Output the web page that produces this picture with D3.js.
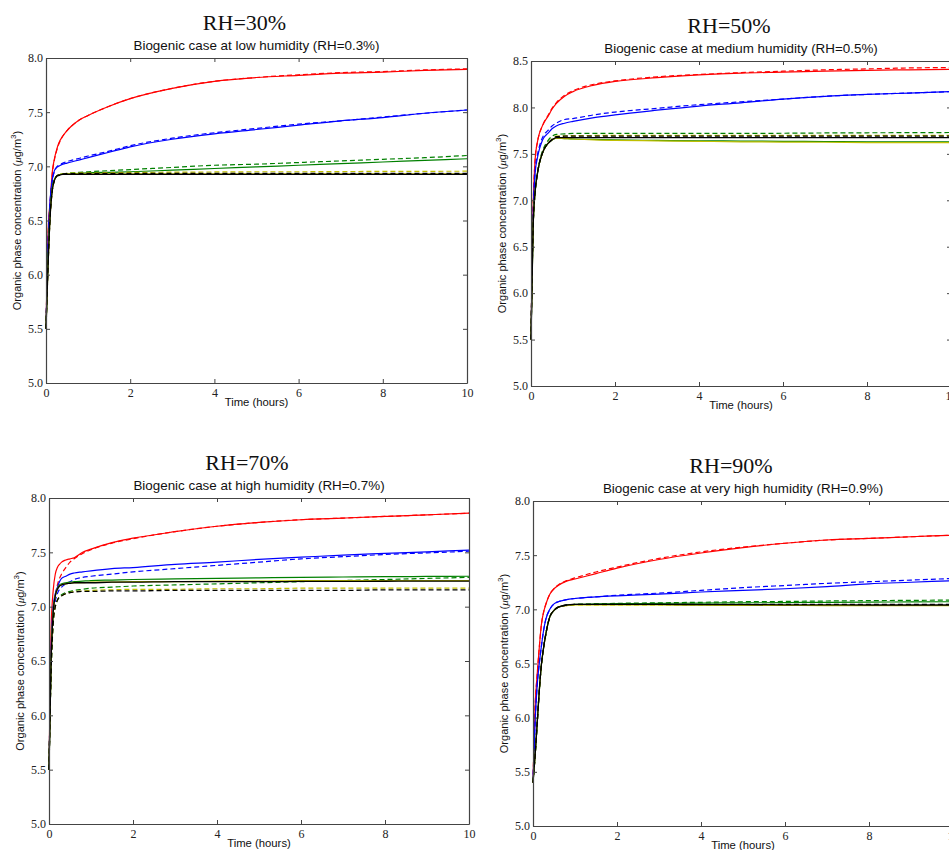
<!DOCTYPE html>
<html>
<head>
<meta charset="utf-8">
<script src="https://cdn.jsdelivr.net/npm/d3@7"></script>
<style>
body { margin: 0; background: #fff; }
svg { display: block; }
</style>
</head>
<body>
<script>
// time axis (hours), shared by every curve
var times = [0, 0.05, 0.1, 0.15, 0.2, 0.25, 0.3, 0.4, 0.5, 0.6, 0.8, 1, 1.5, 2, 3, 4, 5, 6, 7, 8, 9, 10];

// RH=30%
var red30     = [5.5, 6.4, 6.68, 6.95, 7.07, 7.15, 7.21, 7.28, 7.33, 7.37, 7.43, 7.47, 7.555, 7.625, 7.72, 7.785, 7.82, 7.84, 7.86, 7.87, 7.885, 7.895];
var red30d    = [5.5, 6.35, 6.65, 6.93, 7.06, 7.14, 7.2, 7.28, 7.33, 7.37, 7.43, 7.47, 7.555, 7.625, 7.72, 7.785, 7.82, 7.845, 7.865, 7.875, 7.89, 7.9];
var blue30    = [5.5, 6.3, 6.7, 6.88, 6.96, 6.99, 7.0, 7.02, 7.03, 7.04, 7.06, 7.08, 7.13, 7.18, 7.25, 7.3, 7.34, 7.38, 7.42, 7.45, 7.49, 7.52];
var blue30d   = [5.5, 6.28, 6.68, 6.87, 6.95, 6.99, 7.01, 7.03, 7.045, 7.055, 7.075, 7.095, 7.14, 7.19, 7.26, 7.31, 7.35, 7.39, 7.42, 7.455, 7.49, 7.52];
var green30   = [5.5, 6.15, 6.58, 6.8, 6.88, 6.91, 6.92, 6.93, 6.93, 6.932, 6.935, 6.94, 6.945, 6.95, 6.965, 6.98, 6.995, 7.01, 7.025, 7.04, 7.055, 7.07];
var green30d  = [5.5, 6.15, 6.58, 6.8, 6.88, 6.91, 6.92, 6.93, 6.935, 6.94, 6.945, 6.95, 6.96, 6.97, 6.99, 7.01, 7.02, 7.035, 7.05, 7.065, 7.08, 7.1];
var yellow30  = [5.5, 6.1, 6.55, 6.78, 6.87, 6.91, 6.92, 6.93, 6.93, 6.93, 6.93, 6.93, 6.93, 6.93, 6.93, 6.93, 6.93, 6.93, 6.93, 6.93, 6.93, 6.93];
var yellow30d = [5.5, 6.1, 6.55, 6.78, 6.87, 6.91, 6.92, 6.93, 6.935, 6.937, 6.94, 6.94, 6.942, 6.944, 6.946, 6.948, 6.95, 6.95, 6.952, 6.953, 6.954, 6.955];
var black30   = [5.5, 6.1, 6.55, 6.78, 6.87, 6.905, 6.915, 6.925, 6.925, 6.925, 6.925, 6.925, 6.925, 6.925, 6.925, 6.925, 6.925, 6.925, 6.925, 6.925, 6.925, 6.925];
var black30d  = [5.5, 6.1, 6.55, 6.78, 6.87, 6.91, 6.92, 6.93, 6.932, 6.933, 6.934, 6.935, 6.935, 6.935, 6.935, 6.935, 6.935, 6.935, 6.935, 6.935, 6.935, 6.935];

// RH=50%
var red50     = [5.5, 6.9, 7.45, 7.62, 7.72, 7.78, 7.83, 7.9, 7.98, 8.04, 8.12, 8.17, 8.24, 8.28, 8.32, 8.35, 8.37, 8.38, 8.39, 8.4, 8.405, 8.41];
var red50d    = [5.5, 6.9, 7.45, 7.62, 7.72, 7.78, 7.83, 7.91, 7.99, 8.05, 8.13, 8.18, 8.25, 8.285, 8.33, 8.355, 8.375, 8.39, 8.405, 8.415, 8.425, 8.43];
var blue50    = [5.5, 6.8, 7.3, 7.45, 7.55, 7.62, 7.67, 7.72, 7.77, 7.8, 7.83, 7.85, 7.89, 7.92, 7.97, 8.015, 8.05, 8.09, 8.12, 8.14, 8.155, 8.17];
var blue50d   = [5.5, 6.8, 7.32, 7.48, 7.58, 7.65, 7.7, 7.75, 7.8, 7.83, 7.87, 7.88, 7.92, 7.95, 7.99, 8.03, 8.06, 8.09, 8.12, 8.14, 8.155, 8.17];
var green50   = [5.5, 6.7, 7.1, 7.28, 7.4, 7.48, 7.54, 7.61, 7.65, 7.67, 7.665, 7.66, 7.655, 7.65, 7.645, 7.64, 7.638, 7.635, 7.633, 7.63, 7.63, 7.63];
var green50d  = [5.5, 6.7, 7.1, 7.29, 7.41, 7.5, 7.56, 7.64, 7.69, 7.71, 7.715, 7.72, 7.72, 7.72, 7.72, 7.72, 7.72, 7.722, 7.725, 7.727, 7.728, 7.73];
var yellow50  = [5.5, 6.7, 7.1, 7.28, 7.4, 7.48, 7.54, 7.61, 7.65, 7.67, 7.665, 7.66, 7.65, 7.645, 7.64, 7.635, 7.63, 7.627, 7.625, 7.622, 7.62, 7.62];
var yellow50d = [5.5, 6.7, 7.1, 7.28, 7.4, 7.48, 7.54, 7.61, 7.66, 7.69, 7.695, 7.697, 7.698, 7.7, 7.7, 7.7, 7.7, 7.7, 7.7, 7.7, 7.7, 7.7];
var black50   = [5.5, 6.7, 7.1, 7.28, 7.4, 7.48, 7.54, 7.61, 7.65, 7.675, 7.675, 7.675, 7.675, 7.675, 7.675, 7.675, 7.675, 7.675, 7.675, 7.675, 7.675, 7.675];
var black50d  = [5.5, 6.7, 7.1, 7.28, 7.4, 7.48, 7.54, 7.61, 7.655, 7.685, 7.69, 7.69, 7.69, 7.69, 7.69, 7.69, 7.69, 7.69, 7.69, 7.69, 7.69, 7.69];

// RH=70%
var red70     = [5.5, 6.8, 7.15, 7.3, 7.36, 7.39, 7.41, 7.43, 7.44, 7.45, 7.5, 7.53, 7.59, 7.63, 7.69, 7.74, 7.775, 7.8, 7.815, 7.83, 7.845, 7.86];
var red70d    = [5.5, 6.5, 6.9, 7.1, 7.2, 7.26, 7.3, 7.36, 7.41, 7.44, 7.49, 7.525, 7.585, 7.625, 7.69, 7.74, 7.775, 7.8, 7.815, 7.83, 7.845, 7.86];
var blue70    = [5.5, 6.6, 7.0, 7.12, 7.18, 7.23, 7.26, 7.28, 7.3, 7.31, 7.32, 7.33, 7.35, 7.36, 7.39, 7.41, 7.435, 7.455, 7.475, 7.49, 7.505, 7.52];
var blue70d   = [5.5, 6.5, 6.9, 7.05, 7.12, 7.16, 7.18, 7.21, 7.23, 7.25, 7.27, 7.28, 7.3, 7.32, 7.35, 7.38, 7.41, 7.44, 7.46, 7.48, 7.495, 7.51];
var green70   = [5.5, 6.5, 6.95, 7.1, 7.17, 7.2, 7.21, 7.22, 7.225, 7.23, 7.235, 7.24, 7.245, 7.25, 7.255, 7.26, 7.265, 7.27, 7.273, 7.276, 7.278, 7.28];
var green70d  = [5.5, 6.4, 6.85, 7.0, 7.06, 7.09, 7.11, 7.13, 7.14, 7.15, 7.16, 7.17, 7.18, 7.19, 7.2, 7.21, 7.22, 7.23, 7.24, 7.25, 7.26, 7.27];
var yellow70  = [5.5, 6.5, 6.95, 7.1, 7.16, 7.19, 7.2, 7.21, 7.215, 7.22, 7.22, 7.225, 7.225, 7.23, 7.23, 7.235, 7.235, 7.24, 7.24, 7.24, 7.24, 7.24];
var yellow70d = [5.5, 6.4, 6.85, 7.0, 7.06, 7.09, 7.1, 7.12, 7.13, 7.14, 7.145, 7.15, 7.155, 7.16, 7.16, 7.165, 7.165, 7.17, 7.17, 7.17, 7.17, 7.17];
var black70   = [5.5, 6.5, 6.95, 7.1, 7.16, 7.19, 7.2, 7.21, 7.215, 7.22, 7.22, 7.22, 7.225, 7.225, 7.23, 7.23, 7.23, 7.232, 7.233, 7.234, 7.235, 7.235];
var black70d  = [5.5, 6.4, 6.85, 7.0, 7.06, 7.09, 7.1, 7.12, 7.13, 7.135, 7.14, 7.14, 7.145, 7.145, 7.15, 7.15, 7.15, 7.15, 7.15, 7.155, 7.155, 7.155];

// RH=90%
var red90     = [5.4, 6.1, 6.4, 6.65, 6.86, 6.97, 7.04, 7.14, 7.19, 7.22, 7.26, 7.28, 7.33, 7.38, 7.46, 7.52, 7.57, 7.61, 7.64, 7.655, 7.67, 7.685];
var red90d    = [5.4, 6.1, 6.4, 6.65, 6.86, 6.97, 7.04, 7.14, 7.19, 7.225, 7.265, 7.29, 7.345, 7.39, 7.47, 7.53, 7.575, 7.61, 7.64, 7.655, 7.67, 7.685];
var blue90    = [5.4, 5.95, 6.3, 6.5, 6.66, 6.8, 6.9, 7.0, 7.05, 7.07, 7.09, 7.1, 7.115, 7.125, 7.14, 7.16, 7.175, 7.19, 7.21, 7.235, 7.25, 7.265];
var blue90d   = [5.4, 5.95, 6.3, 6.5, 6.66, 6.8, 6.9, 7.0, 7.05, 7.07, 7.09, 7.1, 7.115, 7.13, 7.15, 7.175, 7.2, 7.22, 7.24, 7.255, 7.27, 7.285];
var green90   = [5.4, 5.65, 5.95, 6.25, 6.49, 6.64, 6.76, 6.93, 6.99, 7.02, 7.04, 7.045, 7.05, 7.052, 7.055, 7.058, 7.06, 7.062, 7.065, 7.067, 7.068, 7.07];
var green90d  = [5.4, 5.65, 5.95, 6.25, 6.49, 6.64, 6.76, 6.93, 6.99, 7.02, 7.04, 7.045, 7.05, 7.055, 7.06, 7.065, 7.07, 7.073, 7.077, 7.08, 7.083, 7.085];
var yellow90  = [5.4, 5.65, 5.95, 6.25, 6.49, 6.64, 6.76, 6.93, 6.99, 7.02, 7.035, 7.04, 7.04, 7.04, 7.04, 7.038, 7.037, 7.036, 7.035, 7.035, 7.035, 7.035];
var yellow90d = [5.4, 5.65, 5.95, 6.25, 6.49, 6.64, 6.76, 6.93, 6.99, 7.02, 7.035, 7.04, 7.04, 7.04, 7.04, 7.04, 7.04, 7.04, 7.04, 7.04, 7.04, 7.04];
var black90   = [5.4, 5.65, 5.95, 6.25, 6.49, 6.64, 6.76, 6.93, 6.99, 7.02, 7.04, 7.045, 7.045, 7.045, 7.045, 7.044, 7.043, 7.042, 7.041, 7.04, 7.04, 7.04];
var black90d  = [5.4, 5.65, 5.95, 6.25, 6.49, 6.64, 6.76, 6.93, 6.99, 7.02, 7.04, 7.045, 7.045, 7.045, 7.045, 7.045, 7.045, 7.045, 7.045, 7.045, 7.045, 7.045];

var xTicks = [0, 2, 4, 6, 8, 10];

var colours = { red: "#ff0000", blue: "#0000ff", green: "#008000", yellow: "#bfbf00", black: "#000000" };

var panels = [
  { title: "RH=30%", sub: "Biogenic case at low humidity (RH=0.3%)", yMax: 8.0,
    box: [46, 467, 58, 383],
    lines: [["red", red30, red30d], ["blue", blue30, blue30d], ["green", green30, green30d], ["yellow", yellow30, yellow30d], ["black", black30, black30d]] },
  { title: "RH=50%", sub: "Biogenic case at medium humidity (RH=0.5%)", yMax: 8.5,
    box: [531, 951, 61, 386],
    lines: [["red", red50, red50d], ["blue", blue50, blue50d], ["green", green50, green50d], ["yellow", yellow50, yellow50d], ["black", black50, black50d]] },
  { title: "RH=70%", sub: "Biogenic case at high humidity (RH=0.7%)", yMax: 8.0,
    box: [49, 469, 498, 824],
    lines: [["red", red70, red70d], ["blue", blue70, blue70d], ["green", green70, green70d], ["yellow", yellow70, yellow70d], ["black", black70, black70d]] },
  { title: "RH=90%", sub: "Biogenic case at very high humidity (RH=0.9%)", yMax: 8.0,
    box: [533, 953, 501, 826],
    lines: [["red", red90, red90d], ["blue", blue90, blue90d], ["green", green90, green90d], ["yellow", yellow90, yellow90d], ["black", black90, black90d]] }
];

var svg = d3.select("body").append("svg")
    .attr("width", 949)
    .attr("height", 850)
    .style("overflow", "hidden");

panels.forEach(function(p) {
  var x0 = p.box[0], x1 = p.box[1], y0 = p.box[2], y1 = p.box[3];
  var x = d3.scaleLinear().domain([0, 10]).range([x0, x1]);
  var y = d3.scaleLinear().domain([5.0, p.yMax]).range([y1, y0]);
  var yTicks = d3.range(5.0, p.yMax + 0.01, 0.5);
  var cx = (x0 + x1) / 2;

  var g = svg.append("g");

  // curves: solid then dashed for each colour
  var line = d3.line()
      .x(function(d, i) { return x(times[i]); })
      .y(function(d) { return y(d); })
      .curve(d3.curveMonotoneX);

  p.lines.forEach(function(l) {
    var w = l[0] == "black" ? 1.3 : 1.2;
    g.append("path")
        .attr("d", line(l[1]))
        .attr("fill", "none")
        .attr("stroke", colours[l[0]])
        .attr("stroke-width", w);
    g.append("path")
        .attr("d", line(l[2]))
        .attr("fill", "none")
        .attr("stroke", colours[l[0]])
        .attr("stroke-width", w)
        .attr("stroke-dasharray", "5,3");
  });

  // axes, ticks pointing inwards on all four sides
  var fmt = d3.format(".1f");
  g.append("g").attr("transform", "translate(0," + y1 + ")")
      .call(d3.axisBottom(x).tickValues(xTicks).tickSizeInner(-4).tickSizeOuter(0).tickPadding(5).tickFormat(d3.format("d")));
  g.append("g").attr("transform", "translate(" + x0 + ",0)")
      .call(d3.axisLeft(y).tickValues(yTicks).tickSizeInner(-4).tickSizeOuter(0).tickPadding(3).tickFormat(fmt));
  g.append("g").attr("transform", "translate(0," + y0 + ")")
      .call(d3.axisTop(x).tickValues(xTicks).tickSizeInner(-4).tickSizeOuter(0).tickFormat(""));
  g.append("g").attr("transform", "translate(" + x1 + ",0)")
      .call(d3.axisRight(y).tickValues(yTicks).tickSizeInner(-4).tickSizeOuter(0).tickFormat(""));

  g.selectAll(".domain").attr("stroke", "#444").attr("stroke-width", 1.2);
  g.selectAll(".tick line").attr("stroke", "#444");
  g.selectAll(".tick text")
      .attr("font-family", "Liberation Serif, serif")
      .attr("font-size", 12)
      .attr("fill", "#222");

  // titles
  svg.append("text")
      .attr("x", cx - 12).attr("y", y0 - 28)
      .attr("text-anchor", "middle")
      .attr("font-family", "Liberation Serif, serif")
      .attr("font-size", 22)
      .attr("fill", "#111")
      .text(p.title);
  svg.append("text")
      .attr("x", cx).attr("y", y0 - 8)
      .attr("text-anchor", "middle")
      .attr("font-family", "Liberation Sans, Arial, sans-serif")
      .attr("font-size", 13.4)
      .attr("fill", "#111")
      .text(p.sub);

  // axis labels
  svg.append("text")
      .attr("x", cx).attr("y", y1 + 23)
      .attr("text-anchor", "middle")
      .attr("font-family", "Liberation Sans, Arial, sans-serif")
      .attr("font-size", 11.3)
      .attr("fill", "#111")
      .text("Time (hours)");

  var yl = svg.append("text")
      .attr("transform", "translate(" + (x0 - 29) + "," + ((y0 + y1) / 2) + ") rotate(-90)")
      .attr("text-anchor", "middle")
      .attr("dominant-baseline", "central")
      .attr("font-family", "Liberation Sans, Arial, sans-serif")
      .attr("font-size", 11)
      .attr("fill", "#111");
  yl.append("tspan").text("Organic phase concentration (");
  yl.append("tspan").attr("font-family", "Liberation Serif, serif").attr("font-style", "italic").text("μ");
  yl.append("tspan").text("g/m");
  yl.append("tspan").attr("font-size", 8).attr("dy", -4).text("3");
  yl.append("tspan").attr("dy", 4).text(")");
});
</script>
</body>
</html>
